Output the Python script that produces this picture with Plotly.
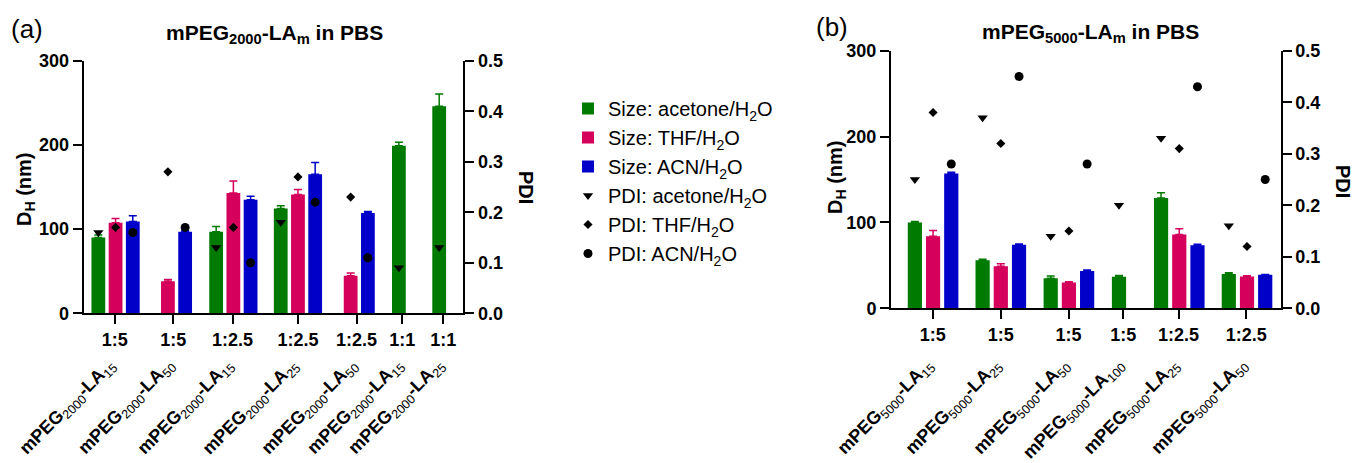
import plotly.graph_objects as go

# ---------------- data: panel (a) mPEG2000-LAm ----------------
a_ratios = ["1:5", "1:5", "1:2.5", "1:2.5", "1:2.5", "1:1", "1:1"]
a_la = ["15", "50", "15", "25", "50", "15", "25"]
a_size_acetone = [90, None, 97, 124.6, None, 199, 246]
a_err_acetone = [3, None, 6, 3, None, 4, 14.5]
a_size_thf = [107.5, 38, 143, 141, 44.5, None, None]
a_err_thf = [5, 2, 14, 6, 3.5, None, None]
a_size_acn = [109, 97, 135, 165, 119, None, None]
a_err_acn = [7, 1.5, 4, 14, 2, None, None]
a_pdi_acetone = [0.16, None, 0.13, 0.18, None, 0.09, 0.13]
a_pdi_thf = [0.17, 0.28, 0.17, 0.27, 0.23, None, None]
a_pdi_acn = [0.16, 0.17, 0.10, 0.22, 0.11, None, None]

# ---------------- data: panel (b) mPEG5000-LAm ----------------
b_ratios = ["1:5", "1:5", "1:5", "1:5", "1:2.5", "1:2.5"]
b_la = ["15", "25", "50", "100", "25", "50"]
b_size_acetone = [100, 56, 35, 36.7, 128.5, 40]
b_err_acetone = [1, 1, 2.5, 1.5, 6, 1.5]
b_size_thf = [84, 49, 30, None, 86, 37]
b_err_thf = [6.5, 3, 1, None, 6.5, 1]
b_size_acn = [157, 74, 43.5, None, 73.5, 39]
b_err_acn = [1.5, 1, 1, None, 1, 0.5]
b_pdi_acetone = [0.25, 0.37, 0.14, 0.20, 0.33, 0.16]
b_pdi_thf = [0.38, 0.32, 0.15, None, 0.31, 0.12]
b_pdi_acn = [0.28, 0.45, 0.28, None, 0.43, 0.25]

# ---------------- layout (group positions in bar-step units, styles) ----------------
a_centers = [1.85, 5.39, 8.69, 12.44, 16.0, 18.3, 20.64]
a_ticks = [1.8, 5.2, 8.64, 12.44, 15.84, 18.5, 20.88]
a_xrange = [0, 22.04]
b_centers = [2.31, 6.03, 9.77, 12.52, 15.83, 19.55]
b_ticks = [2.29, 6.02, 9.75, 12.76, 15.79, 19.51]
b_xrange = [0, 21.4]

FONT = "Liberation Sans, Arial, sans-serif"
COLORS = ["#007a00", "#d4005c", "#0000c8"]
SOLV = ["acetone/H<sub>2</sub>O", "THF/H<sub>2</sub>O", "ACN/H<sub>2</sub>O"]
SYMBOLS = ["triangle-down", "diamond", "circle"]
MSIZE = [9, 7, 9]

W, H = 1356, 463

fig = go.Figure()


def positions(centers, sizes):
    """bar x positions for each series within each group (missing bars removed)"""
    pos = [[None] * len(centers) for _ in sizes]
    for g, c in enumerate(centers):
        present = [s for s in range(len(sizes)) if sizes[s][g] is not None]
        n = len(present)
        for k, s in enumerate(present):
            pos[s][g] = c + (k - (n - 1) / 2.0)
    return pos


def add_panel(centers, sizes, errs, pdis, xa, ya, ya2, show_legend, bw):
    pos = positions(centers, sizes)
    n = len(centers)
    for s in range(3):
        idx = [g for g in range(n) if sizes[s][g] is not None]
        es = [errs[s][g] for g in idx]
        fig.add_trace(go.Bar(
            x=[pos[s][g] for g in idx], y=[sizes[s][g] for g in idx], width=bw,
            marker=dict(color=COLORS[s], line=dict(width=0)),
            error_y=dict(type="data", array=es, arrayminus=[0] * len(es), symmetric=False,
                         color=COLORS[s], thickness=1.5, width=4),
            name="Size: " + SOLV[s], legendgroup="g%d" % s, showlegend=show_legend,
            xaxis=xa, yaxis=ya))
    for s in range(3):
        idx = [g for g in range(n) if pdis[s][g] is not None]
        fig.add_trace(go.Scatter(
            x=[pos[s][g] for g in idx], y=[pdis[s][g] for g in idx], mode="markers",
            marker=dict(symbol=SYMBOLS[s], size=MSIZE[s], color="black", line=dict(width=0)),
            name="PDI: " + SOLV[s], legendgroup="g%d" % (s + 3), showlegend=show_legend,
            xaxis=xa, yaxis=ya2))


add_panel(a_centers, [a_size_acetone, a_size_thf, a_size_acn],
          [a_err_acetone, a_err_thf, a_err_acn],
          [a_pdi_acetone, a_pdi_thf, a_pdi_acn], "x", "y", "y2", True, 0.8)
add_panel(b_centers, [b_size_acetone, b_size_thf, b_size_acn],
          [b_err_acetone, b_err_thf, b_err_acn],
          [b_pdi_acetone, b_pdi_thf, b_pdi_acn], "x2", "y3", "y4", False, 0.78)

tickfont = dict(family=FONT, size=18, color="black", weight="bold")
common_x = dict(showline=True, linewidth=2, linecolor="black", ticks="outside",
                ticklen=9, tickwidth=2, tickcolor="black", showgrid=False,
                zeroline=False, tickfont=tickfont, automargin=False,
                ticklabelstandoff=0)
common_y = dict(showline=True, linewidth=2, linecolor="black", ticks="outside",
                ticklen=9, tickwidth=2, tickcolor="black", showgrid=False,
                zeroline=False, tickfont=tickfont, automargin=False)

fig.update_layout(
    width=W, height=H, margin=dict(l=0, r=0, t=0, b=0),
    plot_bgcolor="white", paper_bgcolor="white",
    font=dict(family=FONT, color="black"),
    barmode="overlay",
    xaxis=dict(domain=[83.7 / W, 463.3 / W], range=a_xrange, anchor="y",
               tickvals=a_ticks, ticktext=a_ratios, **common_x),
    yaxis=dict(domain=[(H - 313.3) / H, (H - 60.7) / H], range=[0, 300], anchor="x",
               tickvals=[0, 100, 200, 300], **common_y),
    yaxis2=dict(overlaying="y", side="right", anchor="x", range=[0, 0.5],
                tickvals=[0, 0.1, 0.2, 0.3, 0.4, 0.5], tickformat=".1f", **common_y),
    xaxis2=dict(domain=[891 / W, 1280.7 / W], range=b_xrange, anchor="y3",
                tickvals=b_ticks, ticktext=b_ratios, **common_x),
    yaxis3=dict(domain=[(H - 308.3) / H, (H - 50.7) / H], range=[0, 300], anchor="x2",
                tickvals=[0, 100, 200, 300], **common_y),
    yaxis4=dict(overlaying="y3", side="right", anchor="x2", range=[0, 0.5],
                tickvals=[0, 0.1, 0.2, 0.3, 0.4, 0.5], tickformat=".1f", **common_y),
    legend=dict(x=568 / W, y=(H - 89) / H, xanchor="left", yanchor="top",
                font=dict(family=FONT, size=20, color="black"),
                bgcolor="rgba(0,0,0,0)", tracegroupgap=0, itemwidth=30),
)

ann = []


def txt(x, y, text, size, angle=0):
    ann.append(dict(x=x / W, y=1 - y / H, xref="paper", yref="paper", text=text,
                    showarrow=False, textangle=angle, xanchor="center", yanchor="middle",
                    font=dict(family=FONT, size=size, color="black")))


# panel labels and titles
txt(27, 29, "(a)", 26)
txt(832, 27, "(b)", 26)
txt(274, 34, "<b>mPEG<sub>2000</sub>-LA<sub>m</sub> in PBS</b>", 21)
txt(1090, 33, "<b>mPEG<sub>5000</sub>-LA<sub>m</sub> in PBS</b>", 21)
# axis titles
txt(25, 190, "<b>D<sub>H</sub> (nm)</b>", 20, angle=-90)
txt(836, 178, "<b>D<sub>H</sub> (nm)</b>", 20, angle=-90)
txt(526, 187, "<b>PDI</b>", 20, angle=90)
txt(1343, 181, "<b>PDI</b>", 20, angle=90)

# rotated sample names under the ratio labels
for c, la in zip(a_ticks, a_la):
    ann.append(dict(x=c, xref="x", y=(H - 352) / H, yref="paper", xshift=9,
                    text="<b>mPEG</b><sub>2000</sub><b>-LA</b><sub>%s</sub>" % la,
                    showarrow=False, textangle=-45, xanchor="right", yanchor="top",
                    font=dict(family=FONT, size=18, color="black")))
for c, la in zip(b_ticks, b_la):
    ann.append(dict(x=c, xref="x2", y=(H - 352) / H, yref="paper", xshift=9,
                    text="<b>mPEG</b><sub>5000</sub><b>-LA</b><sub>%s</sub>" % la,
                    showarrow=False, textangle=-45, xanchor="right", yanchor="top",
                    font=dict(family=FONT, size=18, color="black")))

fig.update_layout(annotations=ann)
fig.write_html("out.html", post_script="document.body.style.margin='0px';",
               config={"displayModeBar": False})
